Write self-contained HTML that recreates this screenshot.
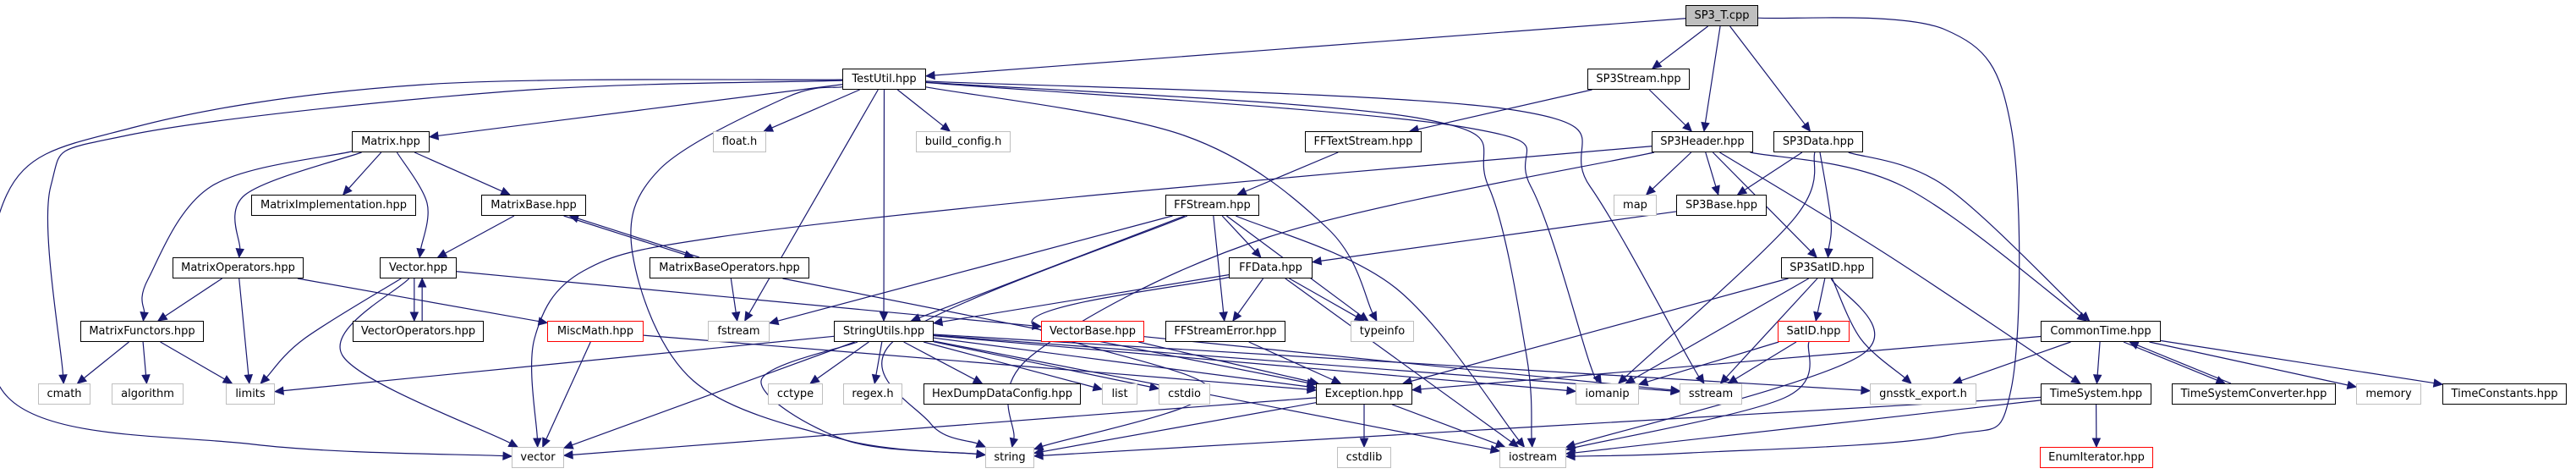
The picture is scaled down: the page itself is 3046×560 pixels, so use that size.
<!DOCTYPE html>
<html><head><meta charset="utf-8"><style>
html,body{margin:0;padding:0;background:#fff;}
#c{position:relative;width:3046px;height:560px;overflow:hidden;}
svg{position:absolute;left:0;top:0;}
.n{position:absolute;height:25px;box-sizing:border-box;border:1px solid #000;background:#fff;font:13px "DejaVu Sans",sans-serif;line-height:23px;text-align:center;color:#000;white-space:nowrap;}
.g{border-color:#bfbfbf;}
.r{border-color:#ff0000;}
.root{background:#bfbfbf;}
</style></head><body><div id="c">
<svg id="s" width="3046" height="560"></svg>
<div class="n root" style="left:1993px;top:6px;width:86px">SP3_T.cpp</div>
<div class="n" style="left:996px;top:81px;width:99px">TestUtil.hpp</div>
<div class="n" style="left:1877px;top:81px;width:121px">SP3Stream.hpp</div>
<div class="n" style="left:416px;top:155px;width:92px">Matrix.hpp</div>
<div class="n g" style="left:843px;top:155px;width:63px">float.h</div>
<div class="n g" style="left:1083px;top:155px;width:112px">build_config.h</div>
<div class="n" style="left:1543px;top:155px;width:138px">FFTextStream.hpp</div>
<div class="n" style="left:1953px;top:155px;width:120px">SP3Header.hpp</div>
<div class="n" style="left:2097px;top:155px;width:106px">SP3Data.hpp</div>
<div class="n" style="left:297px;top:230px;width:195px">MatrixImplementation.hpp</div>
<div class="n" style="left:569px;top:230px;width:124px">MatrixBase.hpp</div>
<div class="n" style="left:1378px;top:230px;width:111px">FFStream.hpp</div>
<div class="n g" style="left:1908px;top:230px;width:51px">map</div>
<div class="n" style="left:1982px;top:230px;width:107px">SP3Base.hpp</div>
<div class="n" style="left:204px;top:304px;width:155px">MatrixOperators.hpp</div>
<div class="n" style="left:449px;top:304px;width:91px">Vector.hpp</div>
<div class="n" style="left:768px;top:304px;width:189px">MatrixBaseOperators.hpp</div>
<div class="n" style="left:1453px;top:304px;width:99px">FFData.hpp</div>
<div class="n" style="left:2106px;top:304px;width:109px">SP3SatID.hpp</div>
<div class="n" style="left:95px;top:379px;width:146px">MatrixFunctors.hpp</div>
<div class="n" style="left:417px;top:379px;width:155px">VectorOperators.hpp</div>
<div class="n r" style="left:647px;top:379px;width:114px">MiscMath.hpp</div>
<div class="n g" style="left:837px;top:379px;width:73px">fstream</div>
<div class="n" style="left:986px;top:379px;width:118px">StringUtils.hpp</div>
<div class="n r" style="left:1231px;top:379px;width:122px">VectorBase.hpp</div>
<div class="n" style="left:1378px;top:379px;width:142px">FFStreamError.hpp</div>
<div class="n g" style="left:1597px;top:379px;width:75px">typeinfo</div>
<div class="n r" style="left:2102px;top:379px;width:85px">SatID.hpp</div>
<div class="n" style="left:2413px;top:379px;width:142px">CommonTime.hpp</div>
<div class="n g" style="left:45px;top:453px;width:62px">cmath</div>
<div class="n g" style="left:132px;top:453px;width:85px">algorithm</div>
<div class="n g" style="left:267px;top:453px;width:58px">limits</div>
<div class="n g" style="left:908px;top:453px;width:65px">cctype</div>
<div class="n g" style="left:997px;top:453px;width:70px">regex.h</div>
<div class="n" style="left:1092px;top:453px;width:186px">HexDumpDataConfig.hpp</div>
<div class="n g" style="left:1303px;top:453px;width:42px">list</div>
<div class="n g" style="left:1370px;top:453px;width:61px">cstdio</div>
<div class="n" style="left:1556px;top:453px;width:114px">Exception.hpp</div>
<div class="n g" style="left:1863px;top:453px;width:75px">iomanip</div>
<div class="n g" style="left:1986px;top:453px;width:74px">sstream</div>
<div class="n g" style="left:2211px;top:453px;width:126px">gnsstk_export.h</div>
<div class="n" style="left:2413px;top:453px;width:131px">TimeSystem.hpp</div>
<div class="n" style="left:2568px;top:453px;width:194px">TimeSystemConverter.hpp</div>
<div class="n g" style="left:2786px;top:453px;width:77px">memory</div>
<div class="n" style="left:2888px;top:453px;width:147px">TimeConstants.hpp</div>
<div class="n g" style="left:605px;top:528px;width:62px">vector</div>
<div class="n g" style="left:1165px;top:528px;width:58px">string</div>
<div class="n g" style="left:1581px;top:528px;width:64px">cstdlib</div>
<div class="n g" style="left:1773px;top:528px;width:79px">iostream</div>
<div class="n r" style="left:2412px;top:528px;width:134px">EnumIterator.hpp</div>
</div>
<script>
var R=[6,81,155,230,304,379,453,528];
var N={SP3T:[1993,2079,0],TestUtil:[996,1095,1],SP3Stream:[1877,1998,1],Matrix:[416,508,2],float:[843,906,2],build:[1083,1195,2],FFText:[1543,1681,2],SP3Header:[1953,2073,2],SP3Data:[2097,2203,2],MatImpl:[297,492,3],MatrixBase:[569,693,3],FFStream:[1378,1489,3],map:[1908,1959,3],SP3Base:[1982,2089,3],MatOps:[204,359,4],Vector:[449,540,4],MBOps:[768,957,4],FFData:[1453,1552,4],SP3SatID:[2106,2215,4],MatFun:[95,241,5],VecOps:[417,572,5],MiscMath:[647,761,5],fstream:[837,910,5],StringUtils:[986,1104,5],VectorBase:[1231,1353,5],FFSE:[1378,1520,5],typeinfo:[1597,1672,5],SatID:[2102,2187,5],CommonTime:[2413,2555,5],cmath:[45,107,6],algorithm:[132,217,6],limits:[267,325,6],cctype:[908,973,6],regex:[997,1067,6],HexDump:[1092,1278,6],list:[1303,1345,6],cstdio:[1370,1431,6],Exception:[1556,1670,6],iomanip:[1863,1938,6],sstream:[1986,2060,6],gnsstk:[2211,2337,6],TimeSystem:[2413,2544,6],TSC:[2568,2762,6],memory:[2786,2863,6],TimeConst:[2888,3035,6],vector:[605,667,7],string:[1165,1223,7],cstdlib:[1581,1645,7],iostream:[1773,1852,7],EnumIt:[2412,2546,7]};
var E=[
['SP3T','TestUtil'],['SP3T','SP3Stream'],['SP3T','SP3Header'],['SP3T','SP3Data'],
['SP3T','iostream',[[2300,35],[2378,150],[2378,460],[2300,515],[2000,535]]],
['TestUtil','Matrix'],['TestUtil','float'],['TestUtil','build'],['TestUtil','StringUtils'],
['TestUtil','cmath',[[600,108],[150,160],[60,220]]],
['TestUtil','vector',[[500,100],[160,150],[8,230],[10,470],[300,525]]],
['TestUtil','fstream'],
['TestUtil','string',[[930,115],[780,200],[748,300],[820,450],[1000,520]]],
['TestUtil','typeinfo',[[1400,160],[1570,270]]],
['TestUtil','iostream',[[1680,140],[1760,220],[1805,420]]],
['TestUtil','iomanip',[[1730,150],[1810,220],[1880,430]]],
['TestUtil','sstream',[[1790,130],[1880,220],[2000,430]]],
['Matrix','MatImpl'],['Matrix','MatrixBase'],['Matrix','Vector',[[505,240]]],['Matrix','MatOps',[[290,230]]],['Matrix','MatFun',[[250,220],[175,330]]],
['MatrixBase','Vector'],['MatrixBase','MBOps',null,-3],['MBOps','MatrixBase',null,3],
['MatOps','MatFun'],['MatOps','limits'],['MatOps','MiscMath'],
['Vector','VecOps',null,-4],['VecOps','Vector',null,4],['Vector','limits',[[360,400]]],['Vector','vector',[[405,420]]],['Vector','VectorBase'],
['MBOps','fstream'],['MBOps','Exception'],
['MatFun','cmath'],['MatFun','algorithm'],['MatFun','limits'],
['MiscMath','vector'],['MiscMath','Exception'],
['StringUtils','limits'],['StringUtils','cctype'],['StringUtils','regex'],['StringUtils','HexDump'],['StringUtils','list'],['StringUtils','cstdio'],['StringUtils','Exception'],['StringUtils','iomanip'],['StringUtils','sstream'],['StringUtils','string',[[900,450],[1000,520]]],['StringUtils','vector'],['StringUtils','iostream'],['StringUtils','gnsstk'],
['VectorBase','Exception'],['VectorBase','sstream'],
['FFStream','StringUtils'],['FFStream','FFData'],['FFStream','FFSE'],['FFStream','typeinfo'],['FFStream','fstream'],['FFStream','string',[[1060,400],[1100,500]]],['FFStream','iostream',[[1650,340]]],
['FFText','FFStream'],['SP3Stream','FFText'],['SP3Stream','SP3Header'],
['SP3Header','map'],['SP3Header','SP3Base'],['SP3Header','SP3SatID'],['SP3Header','CommonTime',[[2250,220]]],['SP3Header','TimeSystem',[[2230,300]]],['SP3Header','vector',[[1300,230],[850,280],[690,320],[632,400]]],['SP3Header','string',[[1500,280],[1220,420]]],
['SP3Data','SP3Base'],['SP3Data','SP3SatID',[[2165,260]]],['SP3Data','CommonTime',[[2300,220]]],['SP3Data','iomanip',[[2120,260]]],
['SP3Base','FFData'],
['FFData','StringUtils'],['FFData','FFSE'],['FFData','typeinfo'],['FFData','iostream'],['FFData','string',[[1220,380],[1430,460]]],
['FFSE','Exception'],
['Exception','string'],['Exception','vector'],['Exception','cstdlib'],['Exception','iostream'],
['SP3SatID','SatID'],['SP3SatID','gnsstk',[[2200,400]]],['SP3SatID','sstream'],['SP3SatID','iomanip'],['SP3SatID','Exception'],['SP3SatID','iostream',[[2200,420]]],
['SatID','iomanip'],['SatID','sstream'],['SatID','iostream',[[2110,470]]],
['CommonTime','TimeSystem'],['CommonTime','TSC',null,-3],['TSC','CommonTime',null,3],['CommonTime','memory'],['CommonTime','TimeConst'],['CommonTime','gnsstk'],['CommonTime','Exception'],
['TimeSystem','EnumIt'],['TimeSystem','string'],['TimeSystem','iostream']
];
function B(id){var n=N[id];return {x1:n[0],x2:n[1],y1:R[n[2]],y2:R[n[2]]+25,cx:(n[0]+n[1])/2,cy:R[n[2]]+12.5};}
function clip(b,tx,ty){var dx=tx-b.cx,dy=ty-b.cy,hw=(b.x2-b.x1)/2,hh=12.5;var t=Math.min(dx?hw/Math.abs(dx):1e9,dy?hh/Math.abs(dy):1e9);return [b.cx+dx*t,b.cy+dy*t];}
var svg='',col='#191970';
E.forEach(function(e){var a=B(e[0]),b=B(e[1]),off=e[3]||0;var w=e[2]||[];
var f=w.length?w[0]:[b.cx+off,b.cy],l=w.length?w[w.length-1]:[a.cx+off,a.cy];
var p=clip(a,f[0],f[1]),q=clip(b,l[0],l[1]);p[0]+=off;q[0]+=off;
var pts=[p].concat(w).concat([q]);
var pl=pts[pts.length-2],dx=q[0]-pl[0],dy=q[1]-pl[1],L=Math.hypot(dx,dy)||1,ux=dx/L,uy=dy/L;
var qe=[q[0]-ux*10,q[1]-uy*10];pts[pts.length-1]=qe;
var d='M'+pts[0][0]+','+pts[0][1];
for(var i=0;i<pts.length-1;i++){var p0=pts[i-1]||pts[i],p1=pts[i],p2=pts[i+1],p3=pts[i+2]||p2;
d+=' C'+(p1[0]+(p2[0]-p0[0])/6)+','+(p1[1]+(p2[1]-p0[1])/6)+' '+(p2[0]-(p3[0]-p1[0])/6)+','+(p2[1]-(p3[1]-p1[1])/6)+' '+p2[0]+','+p2[1];}
svg+='<path d="'+d+'" fill="none" stroke="'+col+'" stroke-width="1.2"/>';
svg+='<polygon points="'+q[0]+','+q[1]+' '+(qe[0]-uy*4.5)+','+(qe[1]+ux*4.5)+' '+(qe[0]+uy*4.5)+','+(qe[1]-ux*4.5)+'" fill="'+col+'" stroke="'+col+'"/>';});
document.getElementById('s').innerHTML=svg;
</script>
</body></html>
